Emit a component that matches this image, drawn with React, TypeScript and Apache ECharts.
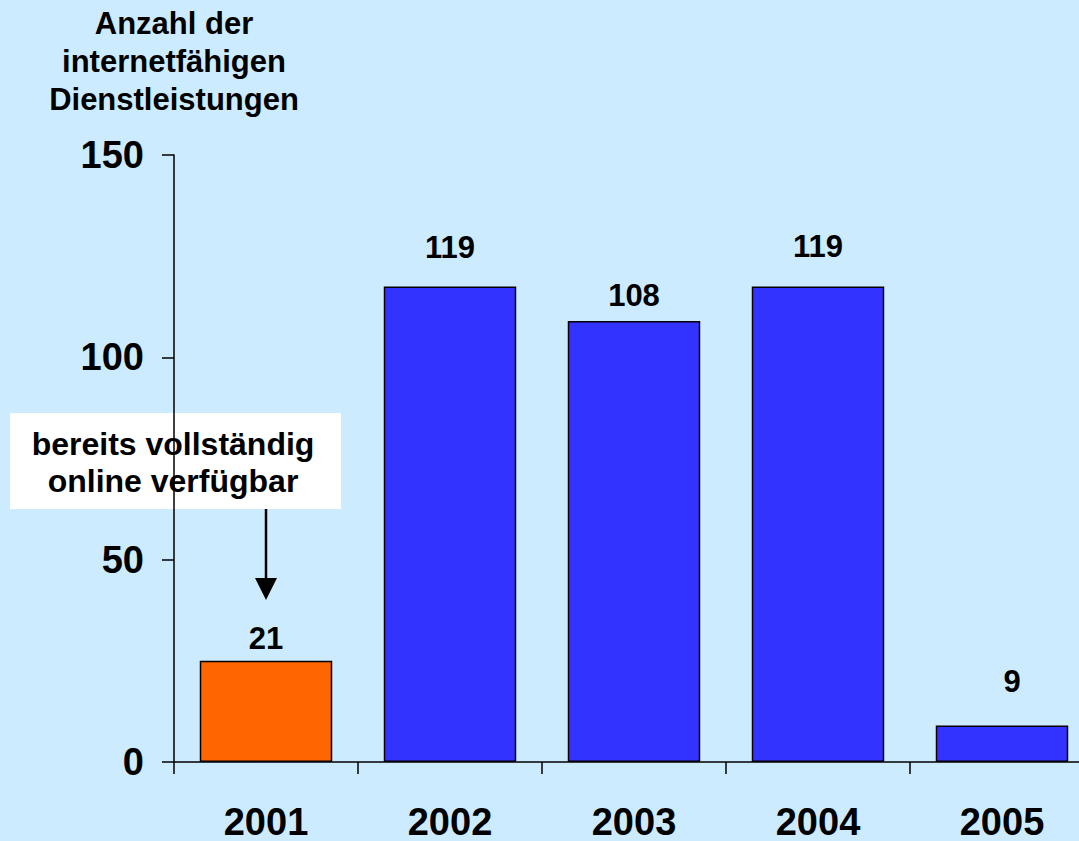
import React, { useEffect, useRef } from "react";
import * as echarts from "echarts";

const categories = ["2001", "2002", "2003", "2004", "2005"];
const barValues = [25, 117.5, 109, 117.5, 9];
const labelTexts = ["21", "119", "108", "119", "9"];
const barColors = ["#FF6600", "#3333FF", "#3333FF", "#3333FF", "#3333FF"];
const yTicks = { min: 0, max: 150, interval: 50 };
const titleText = "Anzahl der\ninternetfähigen\nDienstleistungen";
const noteText = "bereits vollständig\nonline verfügbar";

const labelOffsets = [[0, 0], [0, -17], [0, -3], [0, -18], [10, -22]];

export default function App() {
  const ref = useRef<HTMLDivElement>(null);
  useEffect(() => {
    document.body.style.margin = "0";
    const chart = echarts.init(ref.current!, null, { renderer: "svg" });
    const font = "Liberation Sans, Arial, sans-serif";
    chart.setOption({
      animation: false,
      backgroundColor: "#CCEBFF",
      grid: { left: 174, top: 155, height: 607, width: 920, containLabel: false, outerBoundsMode: "none" },
      xAxis: {
        type: "category",
        data: categories,
        axisLine: { lineStyle: { color: "#000", width: 1.5 } },
        axisTick: { show: true, alignWithLabel: false, interval: 0, length: 12, lineStyle: { color: "#000", width: 1.5 } },
        axisLabel: { color: "#000", fontSize: 38, fontWeight: "bold", fontFamily: font, margin: 41 },
      },
      yAxis: {
        type: "value",
        min: yTicks.min,
        max: yTicks.max,
        interval: yTicks.interval,
        splitLine: { show: false },
        axisLine: { show: true, lineStyle: { color: "#000", width: 1.5 } },
        axisTick: { show: true, length: 12, lineStyle: { color: "#000", width: 1.5 } },
        axisLabel: { color: "#000", fontSize: 38, fontWeight: "bold", fontFamily: font, margin: 30 },
      },
      series: [
        {
          type: "bar",
          barWidth: "72%",
          data: barValues.map((v, i) => ({
            value: v,
            itemStyle: { color: barColors[i], borderColor: "#000", borderWidth: 1.5 },
            label: {
              show: true,
              position: "top",
              distance: 7,
              offset: labelOffsets[i],
              formatter: () => labelTexts[i],
              color: "#000",
              fontSize: 31,
              fontWeight: "bold",
              fontFamily: font,
            },
          })),
        },
      ],
      graphic: [
        {
          type: "text",
          x: 174,
          y: 61.5,
          style: {
            text: titleText,
            fill: "#000",
            font: `bold 31px ${font}`,
            textAlign: "center",
            textVerticalAlign: "middle",
            lineHeight: 38,
          },
        },
        {
          type: "rect",
          shape: { x: 10, y: 413, width: 331, height: 96 },
          style: { fill: "#FFFFFF" },
        },
        {
          type: "text",
          x: 173,
          y: 462.5,
          style: {
            text: noteText,
            fill: "#000",
            font: `bold 32px ${font}`,
            textAlign: "center",
            textVerticalAlign: "middle",
            lineHeight: 37,
          },
        },
        {
          type: "line",
          shape: { x1: 266, y1: 509, x2: 266, y2: 580 },
          style: { stroke: "#000", lineWidth: 2.5 },
        },
        {
          type: "polygon",
          shape: { points: [[255, 578], [277, 578], [266, 600]] },
          style: { fill: "#000" },
        },
      ],
    });
    return () => chart.dispose();
  }, []);
  return <div ref={ref} style={{ width: 1079, height: 841 }} />;
}
